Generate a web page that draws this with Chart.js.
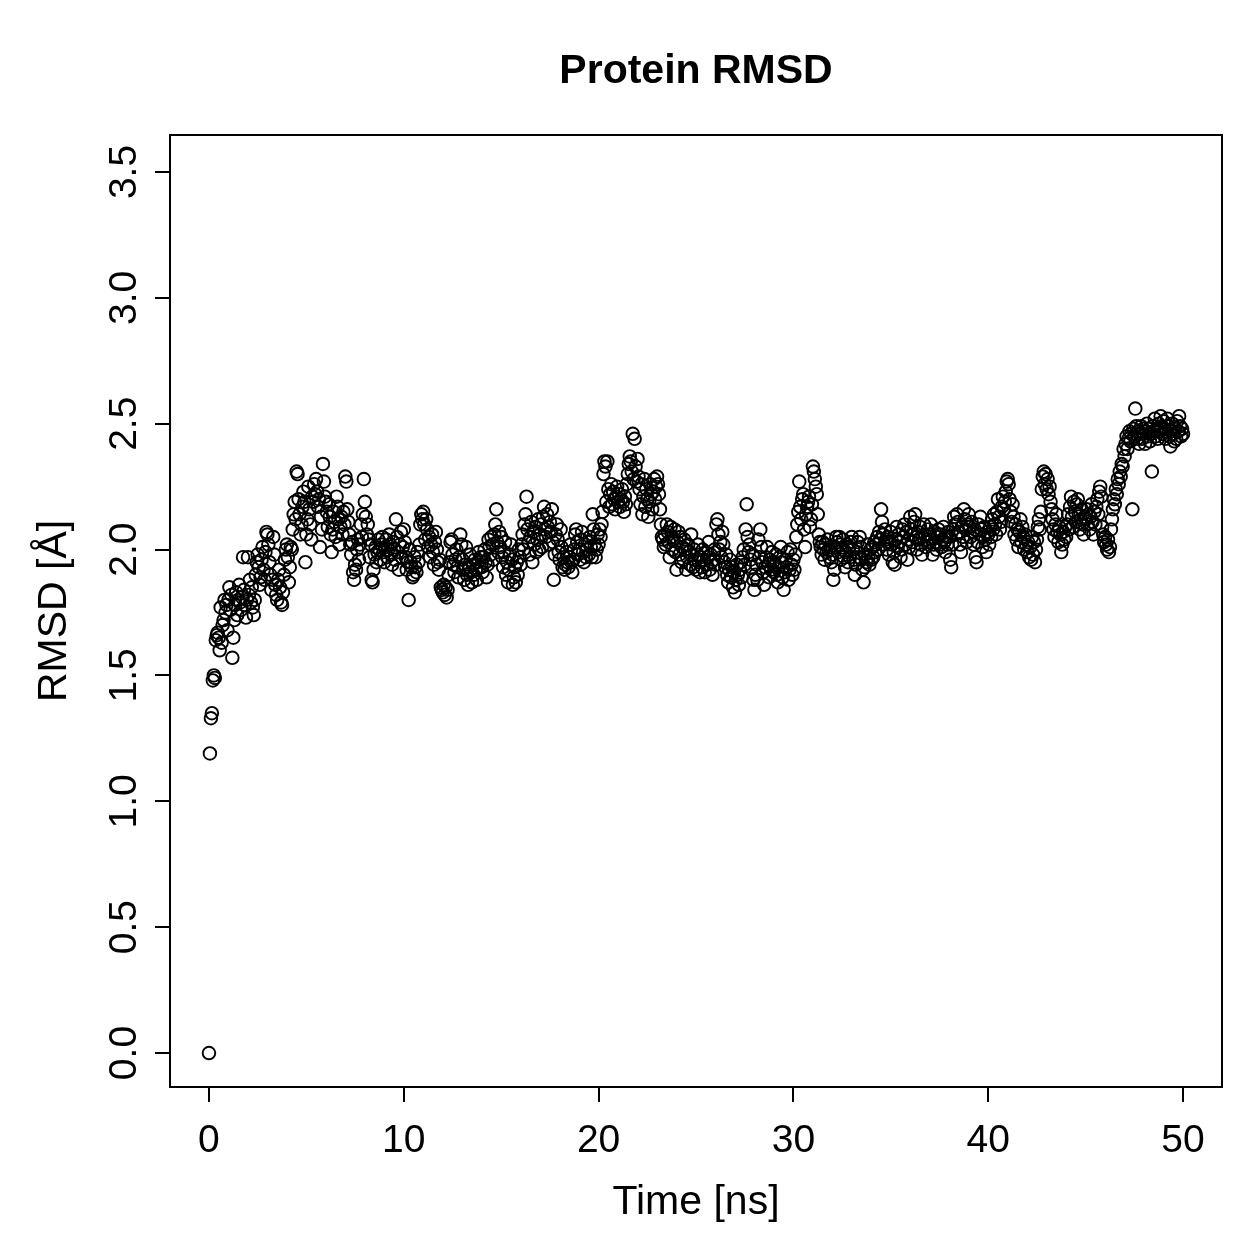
<!DOCTYPE html>
<html><head><meta charset="utf-8">
<script src="https://cdn.jsdelivr.net/npm/chart.js@4/dist/chart.umd.min.js"></script>
<style>html,body{margin:0;padding:0;background:#fff;overflow:hidden}#wrap{width:1259px;height:1259px}</style>
</head><body><div id="wrap"><canvas id="c" width="1259" height="1259"></canvas></div>
<script>
const chartTitle = "Protein RMSD";
const xTitle = "Time [ns]";
const yTitle = "RMSD [Å]";
const xTickValues = [0, 10, 20, 30, 40, 50];
const xTickLabels = ["0", "10", "20", "30", "40", "50"];
const yTickValues = [0, 0.5, 1, 1.5, 2, 2.5, 3, 3.5];
const yTickLabels = ["0.0", "0.5", "1.0", "1.5", "2.0", "2.5", "3.0", "3.5"];
const timeStepNs = 0.05;

const rmsd_00_10 = [
0.00,1.19,1.33,1.35,1.48,1.50,1.49,1.64,1.66,1.67,1.65,1.60,1.77,1.63,1.70,1.72,1.80,1.75,1.78,1.68,
1.80,1.85,1.76,1.82,1.57,1.65,1.72,1.78,1.83,1.74,1.80,1.86,1.79,1.76,1.81,1.97,1.84,1.78,1.73,1.80,
1.97,1.82,1.88,1.79,1.85,1.77,1.74,1.80,1.90,1.95,1.98,1.93,1.86,1.89,1.96,2.01,1.92,1.88,1.99,2.07,
2.06,2.02,1.95,1.90,1.84,1.88,2.05,1.98,1.86,1.82,1.80,1.88,1.92,1.85,1.79,1.78,1.83,1.90,1.96,2.00,
2.02,1.97,1.87,1.93,2.01,2.00,2.08,2.14,2.19,2.12,2.31,2.30,2.20,2.14,2.06,2.10,2.17,2.23,2.19,1.95,
2.06,2.12,2.25,2.16,2.10,2.04,2.21,2.19,2.26,2.22,2.28,2.23,2.17,2.20,2.01,2.13,2.08,2.34,2.27,2.21,
2.19,2.15,2.09,2.18,2.13,2.06,1.99,2.08,2.15,2.11,2.05,2.21,2.17,2.12,2.02,2.09,2.13,2.06,2.15,2.10,
2.29,2.27,2.16,2.11,2.06,2.02,1.98,2.03,1.91,1.88,1.94,1.92,2.00,2.04,1.96,2.02,2.10,2.05,2.14,2.28,
2.19,2.13,2.06,2.10,2.04,1.97,2.02,1.88,1.87,1.92,1.98,2.01,1.95,1.99,2.04,2.00,1.96,2.02,2.05,1.99,
1.95,2.01,2.04,1.97,2.00,2.06,2.02,1.98,1.94,2.03,2.00,1.96,2.12,2.05,1.99,1.92,2.02,2.07,1.97,2.01];

const rmsd_10_20 = [
2.08,2.03,1.97,1.92,1.95,1.80,2.00,1.95,1.93,1.89,1.90,1.97,1.93,1.91,1.99,1.95,2.02,2.10,2.14,2.12,
2.15,2.10,2.04,2.12,2.08,2.01,2.05,1.97,2.02,2.06,1.99,1.94,2.03,2.07,2.00,1.95,1.92,1.96,1.85,1.84,
1.83,1.86,1.82,1.85,1.81,1.84,1.90,1.95,2.03,2.04,1.98,1.94,1.91,1.96,2.00,1.93,1.89,1.97,2.06,2.02,
1.96,1.92,1.88,1.94,2.01,1.90,1.86,1.93,1.98,1.91,1.87,1.94,1.90,1.96,1.92,1.88,1.95,1.99,1.93,1.97,
1.93,1.91,1.97,2.00,1.95,1.89,1.94,2.04,2.01,1.98,2.05,2.02,1.96,2.06,2.10,2.16,2.03,1.99,2.07,2.01,
2.05,1.97,1.93,1.99,2.03,1.90,1.95,1.87,1.92,1.98,2.02,1.96,1.86,1.89,1.93,1.87,1.95,1.90,2.00,1.97,
1.94,2.02,2.06,2.00,2.10,2.14,2.21,2.08,2.03,1.98,2.05,2.11,1.95,2.07,2.02,2.09,1.99,2.04,2.12,2.00,
2.06,2.10,2.01,2.13,2.17,2.08,2.05,2.14,2.09,2.02,2.11,2.07,2.16,2.03,1.88,1.98,2.06,2.10,2.04,1.99,
1.96,2.08,2.01,1.93,1.97,1.92,1.94,1.99,1.95,1.93,1.97,2.02,1.95,1.91,1.96,2.00,2.06,2.08,2.03,1.98,
2.00,1.96,2.04,2.07,1.99,1.95,2.02,1.97,2.00,2.03,1.98,2.05,2.01,1.97,2.14,2.08,2.02,1.97,2.00,2.06];

const rmsd_20_30 = [
2.02,2.08,2.05,2.10,2.15,2.30,2.35,2.33,2.19,2.35,2.24,2.17,2.22,2.26,2.18,2.23,2.20,2.16,2.21,2.25,
2.19,2.22,2.17,2.20,2.24,2.19,2.15,2.21,2.18,2.26,2.30,2.34,2.37,2.35,2.31,2.46,2.28,2.44,2.33,2.27,
2.36,2.29,2.24,2.18,2.26,2.14,2.21,2.28,2.17,2.24,2.20,2.13,2.19,2.26,2.22,2.16,2.23,2.28,2.20,2.25,
2.29,2.26,2.22,2.16,2.10,2.05,2.04,2.01,2.06,2.02,2.10,2.07,2.03,1.97,2.09,2.05,2.00,2.04,2.08,1.99,
1.92,2.03,2.07,1.98,2.05,1.95,2.01,1.96,2.04,2.00,1.92,1.97,2.02,1.99,1.94,2.06,1.98,1.93,2.00,1.96,
1.92,1.98,2.02,1.95,1.91,1.97,1.93,2.00,1.96,1.91,1.99,1.94,1.97,2.03,1.92,1.98,1.95,1.90,1.96,2.00,
1.94,2.10,2.12,2.06,2.00,2.03,1.97,2.07,2.02,1.95,1.93,1.98,1.90,1.87,1.92,1.96,1.89,1.93,1.85,1.91,
1.83,1.88,1.94,1.90,1.86,1.92,1.95,1.89,1.97,2.00,1.94,2.08,2.18,2.05,1.99,2.02,1.96,1.93,1.98,1.88,
1.84,1.90,1.94,1.88,2.04,1.97,2.08,2.01,1.95,1.91,1.86,1.93,1.97,2.01,1.94,1.89,1.96,1.92,1.99,1.95,
1.91,1.94,1.98,1.90,1.87,1.93,1.97,2.01,1.95,1.89,1.84,1.91,1.96,1.93,1.99,1.88,1.92,2.00,1.94,1.90];

const rmsd_30_40 = [
1.96,1.92,1.98,2.05,2.10,2.15,2.27,2.17,2.12,2.20,2.22,2.08,2.01,2.14,2.17,2.19,2.21,2.09,2.12,2.18,
2.33,2.31,2.28,2.25,2.22,2.14,2.06,2.03,2.01,1.98,2.03,2.00,1.96,2.02,1.99,2.04,2.00,1.97,2.01,1.95,
1.98,1.88,1.92,2.01,2.05,2.03,1.99,2.05,2.02,1.96,2.00,2.04,1.97,1.93,1.99,2.02,1.95,2.01,1.97,2.03,
2.05,2.00,1.96,1.90,1.94,1.99,2.03,1.97,2.05,2.01,1.96,1.92,1.87,1.93,1.98,1.95,2.02,1.97,1.94,2.00,
1.96,2.01,1.97,2.03,1.99,2.02,2.05,2.00,2.07,2.04,2.16,2.11,2.06,2.02,2.08,2.04,2.00,2.05,1.98,2.03,
2.07,2.02,1.95,1.99,1.94,2.04,2.09,2.01,2.06,2.03,1.97,2.00,2.08,2.05,2.10,2.02,2.07,1.96,2.04,2.01,
2.13,2.08,2.03,2.06,2.11,2.14,2.05,2.00,2.07,2.04,2.09,2.02,1.98,2.05,2.10,2.06,2.01,2.04,2.08,2.03,
2.06,2.10,2.04,1.98,2.02,2.07,2.03,2.00,2.05,2.08,2.02,2.06,2.01,2.04,2.09,2.03,1.99,2.05,2.02,2.07,
2.05,1.96,1.93,2.02,2.08,2.13,2.10,2.06,2.14,2.11,2.07,2.02,1.99,2.09,2.05,2.16,2.12,2.08,2.03,2.10,
2.14,2.09,2.05,2.11,2.07,2.02,2.08,1.97,1.95,2.03,2.10,2.06,2.13,2.08,2.01,2.05,2.09,2.04,1.99,2.07];

const rmsd_40_50 = [
2.06,2.02,2.09,2.05,2.12,2.08,2.14,2.10,2.06,2.15,2.20,2.13,2.08,2.11,2.17,2.21,2.16,2.19,2.23,2.27,
2.28,2.26,2.20,2.15,2.11,2.18,2.13,2.06,2.10,2.04,2.08,2.01,2.07,2.12,2.03,2.09,2.05,2.00,2.06,2.02,
1.99,2.03,1.97,2.01,1.96,2.05,1.98,2.03,1.95,2.00,2.04,2.09,2.12,2.08,2.15,2.24,2.29,2.31,2.26,2.30,
2.24,2.28,2.22,2.25,2.19,2.16,2.12,2.08,2.05,2.10,2.14,2.07,2.03,2.09,2.06,1.99,2.02,2.07,2.04,2.09,
2.05,2.10,2.14,2.08,2.17,2.21,2.13,2.09,2.19,2.15,2.11,2.18,2.20,2.14,2.08,2.12,2.16,2.10,2.06,2.13,
2.12,2.16,2.10,2.14,2.08,2.13,2.18,2.11,2.06,2.15,2.10,2.17,2.20,2.14,2.23,2.25,2.21,2.09,2.06,2.03,
2.05,2.02,2.00,2.04,1.99,2.01,2.08,2.12,2.16,2.20,2.18,2.24,2.22,2.28,2.26,2.31,2.29,2.34,2.33,2.40,
2.37,2.42,2.45,2.40,2.44,2.47,2.43,2.46,2.16,2.48,2.45,2.56,2.49,2.44,2.47,2.42,2.46,2.49,2.44,2.48,
2.46,2.42,2.47,2.50,2.45,2.48,2.43,2.46,2.31,2.49,2.47,2.52,2.45,2.48,2.44,2.50,2.47,2.53,2.49,2.46,
2.51,2.48,2.44,2.47,2.52,2.49,2.45,2.41,2.47,2.50,2.46,2.43,2.48,2.44,2.51,2.47,2.53,2.49,2.45,2.48,
2.46];

const rmsdValues = [].concat(rmsd_00_10, rmsd_10_20, rmsd_20_30, rmsd_30_40, rmsd_40_50);
const points = rmsdValues.map((v, i) => ({ x: +(i * timeStepNs).toFixed(2), y: v }));

const FONT = "'Liberation Sans', 'Helvetica', Arial, sans-serif";

const frame = {
  id: 'frame',
  afterDraw(chart) {
    const { ctx, chartArea: a, scales: { x, y } } = chart;
    ctx.save();
    ctx.strokeStyle = '#000';
    ctx.lineWidth = 2;
    ctx.strokeRect(a.left, a.top, a.right - a.left, a.bottom - a.top);
    ctx.fillStyle = '#000';
    ctx.font = "bold 41px " + FONT;
    ctx.textAlign = 'center';
    ctx.textBaseline = 'alphabetic';
    ctx.fillText(chartTitle, (a.left + a.right) / 2, 83);
    ctx.font = "39px " + FONT;
    xTickValues.forEach((v, i) => ctx.fillText(xTickLabels[i], x.getPixelForValue(v), 1152));
    ctx.font = "41px " + FONT;
    ctx.fillText(xTitle, (a.left + a.right) / 2, 1214);
    ctx.font = "39px " + FONT;
    yTickValues.forEach((v, i) => {
      ctx.save();
      ctx.translate(136, y.getPixelForValue(v));
      ctx.rotate(-Math.PI / 2);
      ctx.textAlign = 'center';
      ctx.textBaseline = 'alphabetic';
      ctx.fillText(yTickLabels[i], 0, 0);
      ctx.restore();
    });
    ctx.save();
    ctx.font = "41px " + FONT;
    ctx.translate(66, (a.top + a.bottom) / 2);
    ctx.rotate(-Math.PI / 2);
    ctx.textAlign = 'center';
    ctx.fillText(yTitle, 0, 0);
    ctx.restore();
    ctx.restore();
  }
};

const gridCfg = { display: true, drawOnChartArea: false, drawTicks: true, tickLength: 15, color: '#000', lineWidth: 2 };

new Chart(document.getElementById('c'), {
  type: 'scatter',
  data: { datasets: [{
    data: points,
    pointStyle: 'circle',
    pointRadius: 6.3,
    pointBorderWidth: 1.9,
    borderColor: '#000',
    pointBorderColor: '#000',
    backgroundColor: 'rgba(0,0,0,0)',
    pointBackgroundColor: 'rgba(0,0,0,0)',
    showLine: false
  }]},
  options: {
    responsive: false,
    animation: false,
    devicePixelRatio: 1,
    events: [],
    layout: { padding: { left: 0, top: 135, right: 37, bottom: 0 } },
    plugins: { legend: { display: false }, tooltip: { enabled: false }, title: { display: false } },
    scales: {
      x: {
        type: 'linear', min: -2, max: 52,
        afterBuildTicks: s => { s.ticks = xTickValues.map(v => ({ value: v })); },
        afterFit: s => { s.height = 172; },
        grid: gridCfg, border: { display: false },
        ticks: { display: false }
      },
      y: {
        type: 'linear', min: -0.135, max: 3.647,
        afterBuildTicks: s => { s.ticks = yTickValues.map(v => ({ value: v })); },
        afterFit: s => { s.width = 170; },
        grid: gridCfg, border: { display: false },
        ticks: { display: false }
      }
    }
  },
  plugins: [frame]
});
</script>
</body></html>
